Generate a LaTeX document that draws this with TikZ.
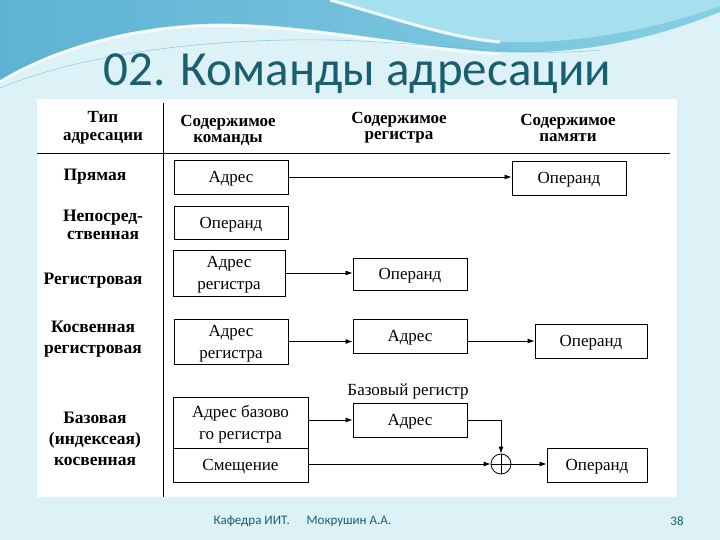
\documentclass[tikz,border=0pt]{standalone}
\usepackage{fontspec}
\setmainfont{Liberation Serif}
\newfontfamily\titlefont{Carlito}
\usetikzlibrary{arrows.meta}
\definecolor{bgc}{HTML}{DCF2F7}
\definecolor{waveA}{HTML}{5FB2D4}
\definecolor{waveB}{HTML}{86CFE4}
\definecolor{waveC}{HTML}{A6E0EE}
\definecolor{titlec}{HTML}{1B5E70}
\begin{document}
\begin{tikzpicture}[x=1pt,y=-1pt,
  bx/.style={draw, line width=0.9pt, inner sep=0pt, align=center, text depth=0pt, font=\fontsize{17}{22}\selectfont},
  hdr/.style={align=center, font=\bfseries\fontsize{17}{16}\selectfont},
  rowlab/.style={align=center, font=\bfseries\fontsize{17.5}{21}\selectfont},
  arr/.style={-{Latex[length=7pt,width=5pt]}, line width=0.8pt},
  rule/.style={line width=0.9pt},
  foot/.style={font=\titlefont\fontsize{13}{15}\selectfont, text=titlec}]
\useasboundingbox (0,0) rectangle (720,540);
% background
\fill[bgc] (0,0) rectangle (720,540);
\shade[left color=waveA, right color=waveB] (0,0) -- (720,0) -- (720,12)
  .. controls (650,40) and (580,55) .. (500,52)
  .. controls (420,49) and (300,20) .. (200,24)
  .. controls (120,28) and (50,50) .. (0,80) -- cycle;
\fill[waveC] (330,0) .. controls (400,20) and (450,38) .. (500,42)
  .. controls (600,45) and (680,20) .. (720,6) -- (720,0) -- cycle;
\draw[white, line width=3pt, opacity=0.85] (330,0) .. controls (400,20) and (450,38) .. (500,42);
\draw[white, line width=2.5pt, opacity=0.8] (0,82) .. controls (50,52) and (120,30) .. (200,26)
  .. controls (300,22) and (420,51) .. (500,54);
\draw[waveA, line width=0.6pt, opacity=0.6] (0,88) .. controls (80,55) and (200,38) .. (330,40)
  .. controls (430,42) and (520,58) .. (600,50);
% title
\node[font=\titlefont\fontsize{49}{54}\selectfont, text=titlec, anchor=base] (title) at (357.5,86) {02. Команды адресации};
% panel
\fill[white] (37,99) rectangle (677,497);
\coordinate (vt) at (163,103);
\coordinate (vb) at (163,497);
\coordinate (hl) at (37,153);
\coordinate (hr) at (670,153);
\draw[rule] (vt) -- (vb);
\draw[rule] (hl) -- (hr);
% headers
\node[align=center, font=\bfseries\fontsize{17}{18}\selectfont] (h1) at (103,128) {Тип\\адресации};
\node[align=center, font=\bfseries\fontsize{17}{16}\selectfont] (h2) at (228,130.5) {Содержимое\\команды};
\node[hdr] (h3) at (399,128) {Содержимое\\регистра};
\node[hdr] (h4) at (568,128) {Содержимое\\памяти};
% row labels
\node[rowlab] (l1) at (95,177) {Прямая};
\node[align=center, font=\bfseries\fontsize{17.5}{18}\selectfont] (l2) at (103,225) {Непосред-\\ственная};
\node[rowlab] (l3) at (93,281) {Регистровая};
\node[rowlab] (l4) at (93,339) {Косвенная\\регистровая};
\node[rowlab] (l5) at (95,439) {Базовая\\(индексеая)\\косвенная};
% command boxes
\node[bx, minimum width=114pt, minimum height=34pt] (a1) at (231,177) {Адрес};
\node[bx, minimum width=114pt, minimum height=33pt] (a2) at (231,222.5) {Операнд};
\node[bx, minimum width=112pt, minimum height=46pt] (a3) at (229,273) {Адрес\\регистра};
\node[bx, minimum width=114pt, minimum height=45pt] (a4) at (231,341.5) {Адрес\\регистра};
\node[bx, minimum width=135pt, minimum height=51pt] (a5) at (240.5,422.5) {Адрес базово\\го регистра};
\node[bx, minimum width=135pt, minimum height=34pt] (sm) at (240.5,465) {Смещение};
% register boxes
\node[bx, minimum width=114pt, minimum height=32pt] (r3) at (410,274) {Операнд};
\node[bx, minimum width=114pt, minimum height=34pt] (r4) at (410,336) {Адрес};
\node[bx, minimum width=114pt, minimum height=34pt] (r5) at (410,420) {Адрес};
\node[font=\fontsize{17}{19}\selectfont] (bl) at (408,391) {Базовый регистр};
% memory boxes
\node[bx, minimum width=114pt, minimum height=34pt] (m1) at (569,178) {Операнд};
\node[bx, minimum width=112pt, minimum height=34pt] (m4) at (591,341) {Операнд};
\node[bx, minimum width=100pt, minimum height=34pt] (m5) at (597,465) {Операнд};
\node[draw, circle, line width=0.8pt, minimum size=20pt, inner sep=0pt] (plus) at (501,464) {};
\draw[line width=0.8pt] (plus.north) -- (plus.south) (plus.west) -- (plus.east);
% connectors
\draw[arr] (a1.east) -- (a1.east -| m1.west);
\draw[arr] (a3.east) -- (a3.east -| r3.west);
\draw[arr] (a4.east) -- (a4.east -| r4.west);
\draw[arr] (r4.east |- m4.west) -- (m4.west);
\draw[arr] (r5.west -| a5.east) -- (r5.west);
\draw[arr] (r5.east) -| (plus.north);
\draw[arr] (sm.east |- plus.west) -- (plus.west);
\draw[arr] (plus.east) -- (plus.east -| m5.west);
% footer
\node[foot, anchor=west] (f1) at (210,521) {Кафедра ИИТ.};
\node[foot, anchor=west] (f2) at (303,521) {Мокрушин А.А.};
\node[foot] (f3) at (677,521) {38};
\end{tikzpicture}
\end{document}
